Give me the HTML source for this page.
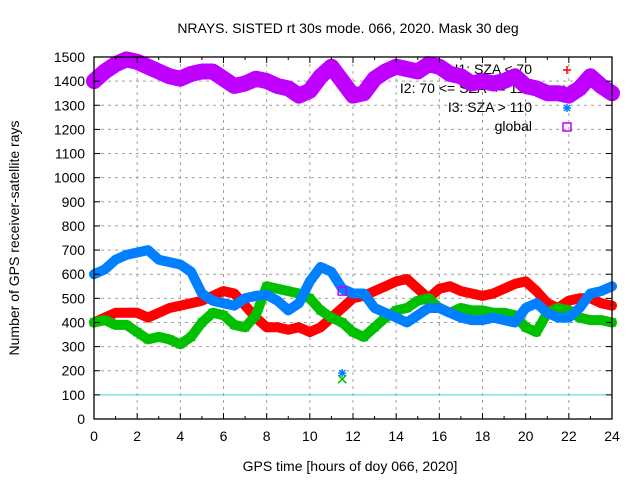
<!DOCTYPE html>
<html><head><meta charset="utf-8"><style>
html,body{margin:0;padding:0;background:#fff;}
svg text{font-family:"Liberation Sans",sans-serif;font-size:14px;fill:#000;}
</style></head><body>
<svg id="chart" width="640" height="480" xmlns="http://www.w3.org/2000/svg">
<rect width="640" height="480" fill="#fff"/>
<text x="348" y="33" text-anchor="middle">NRAYS. SISTED rt 30s mode. 066, 2020. Mask 30 deg</text>
<text transform="translate(19,238) rotate(-90)" text-anchor="middle">Number of GPS receiver-satellite rays</text>
<text x="350" y="471" text-anchor="middle">GPS time [hours of doy 066, 2020]</text>
<g id="grid"></g>
<g id="legend">
<text x="532" y="74" text-anchor="end">I1: SZA &lt; 70</text>
<text x="532" y="93" text-anchor="end">I2: 70 &lt;= SZA &lt;= 110</text>
<text x="532" y="112" text-anchor="end">I3: SZA &gt; 110</text>
<text x="532" y="131" text-anchor="end">global</text>
</g>
<g id="series"></g>
<g id="axes"></g>
</svg>
<script>
const hours=[0,0.5,1,1.5,2,2.5,3,3.5,4,4.5,5,5.5,6,6.5,7,7.5,8,8.5,9,9.5,10,10.5,11,11.5,12,12.5,13,13.5,14,14.5,15,15.5,16,16.5,17,17.5,18,18.5,19,19.5,20,20.5,21,21.5,22,22.5,23,23.5,24];
const i1Values=[400,420,440,440,440,420,440,460,470,480,490,510,530,520,470,420,380,380,370,380,360,380,420,460,500,510,530,550,570,580,540,500,540,550,530,520,510,520,540,560,570,530,480,460,490,500,500,480,470];
const i2Values=[400,410,390,390,360,330,340,330,310,340,400,440,430,390,380,430,550,540,530,520,500,450,420,400,360,340,380,420,450,460,490,500,460,440,460,450,450,440,440,430,380,360,440,460,450,420,410,410,400];
const i3Values=[600,620,660,680,690,700,660,650,640,610,520,490,480,470,500,510,515,490,450,480,570,630,610,540,520,520,460,440,420,400,430,460,460,440,420,410,410,420,410,400,460,480,440,420,420,460,520,530,550];
const globalValues=[1400,1440,1470,1490,1480,1460,1440,1420,1410,1430,1440,1440,1410,1380,1390,1410,1400,1380,1370,1340,1360,1420,1460,1400,1340,1350,1410,1440,1460,1450,1440,1470,1460,1430,1420,1390,1400,1390,1400,1420,1380,1370,1350,1350,1340,1370,1420,1380,1350];
const outlierHours=[11.5];
const outlierI2=[165];
const outlierI3=[190];
const outlierGlobal=[530];
const xTicks=[0,2,4,6,8,10,12,14,16,18,20,22,24];
const yTicks=[0,100,200,300,400,500,600,700,800,900,1000,1100,1200,1300,1400,1500];

const NS="http://www.w3.org/2000/svg";
const L=94,R=612,T=57,B=419;
const xs=h=>L+(h/24)*(R-L);
const ys=v=>B-(v/1500)*(B-T);
function mk(tag,attrs,parent){const e=document.createElementNS(NS,tag);for(const k in attrs)e.setAttribute(k,attrs[k]);parent.appendChild(e);return e;}
const grid=document.getElementById('grid'),axes=document.getElementById('axes'),ser=document.getElementById('series');

yTicks.forEach(v=>{
  if(v>0&&v<1500){
    const g=mk('line',{x1:L,x2:R,y1:ys(v),y2:ys(v),stroke:v===100?'#40d8d8':'#a0a0a0','stroke-dasharray':v===100?'':'3,4','stroke-width':1},grid);
    
    
  }
  const t=mk('text',{x:L-9,y:ys(v)+5,'text-anchor':'end'},axes);t.textContent=v;
  
  
  mk('line',{x1:L,x2:L+6,y1:ys(v),y2:ys(v),stroke:'#000'},axes);
  mk('line',{x1:R,x2:R-6,y1:ys(v),y2:ys(v),stroke:'#000'},axes);
});
xTicks.forEach(h=>{
  if(h>0&&h<24){
    const g=mk('line',{x1:xs(h),x2:xs(h),y1:T,y2:B,stroke:'#a0a0a0','stroke-dasharray':'3,4'},grid);
    
    
  }
  const t=mk('text',{x:xs(h),y:B+22,'text-anchor':'middle'},axes);t.textContent=h;
  
  
  mk('line',{x1:xs(h),x2:xs(h),y1:B,y2:B-6,stroke:'#000'},axes);
  mk('line',{x1:xs(h),x2:xs(h),y1:T,y2:T+6,stroke:'#000'},axes);
  if(h<24){
    mk('line',{x1:xs(h+1),x2:xs(h+1),y1:B,y2:B-3,stroke:'#000'},axes);
    mk('line',{x1:xs(h+1),x2:xs(h+1),y1:T,y2:T+3,stroke:'#000'},axes);
  }
});
const frame=mk('rect',{x:L,y:T,width:R-L,height:B-T,fill:'none',stroke:'#000','stroke-width':1.3},axes);



function marker(type,x,y,color,p){
  const s=4;
  if(type==='plus'){mk('path',{d:`M${x-s} ${y}H${x+s}M${x} ${y-s}V${y+s}`,stroke:color,'stroke-width':1.5,fill:'none'},p);}
  else if(type==='x'){mk('path',{d:`M${x-s} ${y-s}L${x+s} ${y+s}M${x-s} ${y+s}L${x+s} ${y-s}`,stroke:color,'stroke-width':1.5,fill:'none'},p);}
  else if(type==='star'){mk('path',{d:`M${x-s} ${y}H${x+s}M${x} ${y-s}V${y+s}M${x-3} ${y-3}L${x+3} ${y+3}M${x-3} ${y+3}L${x+3} ${y-3}`,stroke:color,'stroke-width':1.5,fill:'none'},p);}
  else {mk('rect',{x:x-s,y:y-s,width:2*s,height:2*s,stroke:color,'stroke-width':1.5,fill:'none'},p);}
}
function series(name,vals,color,type,width){
  const g=mk('g',{},ser);
  
  
  const d=vals.map((v,i)=>(i?'L':'M')+xs(hours[i]).toFixed(1)+' '+ys(v).toFixed(1)).join('');
  mk('path',{d:d,stroke:color,'stroke-width':width,fill:'none','stroke-linejoin':'round','stroke-linecap':'round'},g);
  vals.forEach((v,i)=>marker(type,xs(hours[i]),ys(v),color,g));
}
series('series-global',globalValues,'#c000ff','square',16);
series('series-i1',i1Values,'#ff0000','plus',10);
series('series-i2',i2Values,'#00c000','x',10);
series('series-i3',i3Values,'#0080ff','star',10);
outlierHours.forEach((h,i)=>{
  const g=mk('g',{},ser);
  
  
  marker('square',xs(h),ys(outlierGlobal[i]),'#c000ff',g);
  marker('x',xs(h),ys(outlierI2[i]),'#00c000',g);
  marker('star',xs(h),ys(outlierI3[i]),'#0080ff',g);
});
const lg=document.getElementById('legend');
marker('plus',567,70,'#ff0000',lg);
marker('x',567,89,'#00c000',lg);
marker('star',567,108,'#0080ff',lg);
marker('square',567,127,'#c000ff',lg);
</script>
</body></html>
